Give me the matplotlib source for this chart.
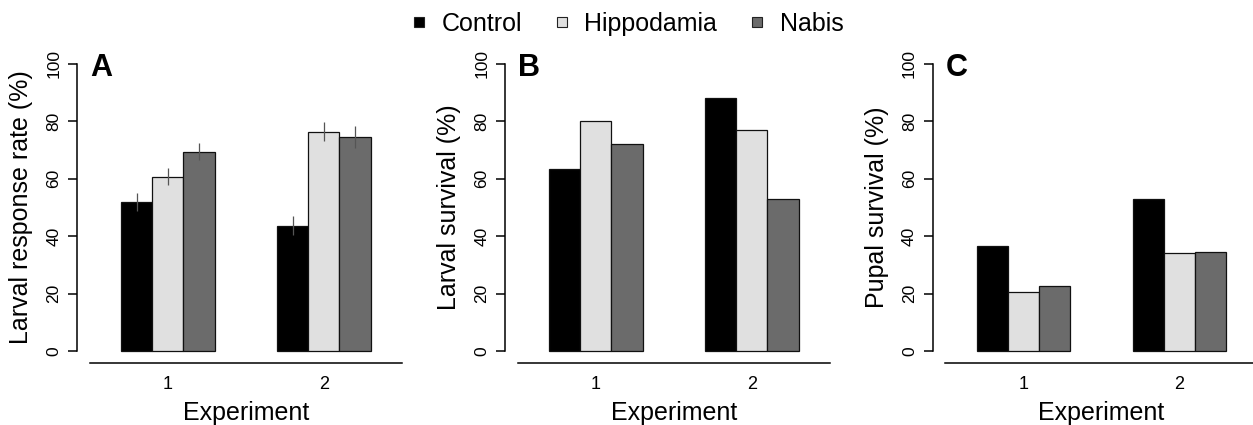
import matplotlib
matplotlib.use('Agg')
import matplotlib.pyplot as plt
import numpy as np
from matplotlib.lines import Line2D

plt.rcParams['font.family'] = ['Liberation Sans', 'DejaVu Sans']

#~~~~~~~~~~~~~~
# DATA
#~~~~~~~~~~~~~~

experiments = ['1', '2']
treatments = ['Control', 'Hippodamia', 'Nabis']

# A: larval response rate (%) with SE
response_control = [52.0, 43.7]
response_hippodamia = [60.7, 76.4]
response_nabis = [69.5, 74.7]
response_se_control = [3.2, 3.3]
response_se_hippodamia = [2.9, 3.4]
response_se_nabis = [3.1, 3.8]

# B: larval survival (%)
larval_control = [63.4, 88.3]
larval_hippodamia = [80.0, 77.1]
larval_nabis = [72.1, 53.1]

# C: pupal survival (%)
pupal_control = [36.7, 52.8]
pupal_hippodamia = [20.7, 34.1]
pupal_nabis = [22.8, 34.5]

colors = ['#000000', '#e0e0e0', '#6b6b6b']

#~~~~~~~~~~~~~~
# PLOTTING
#~~~~~~~~~~~~~~

W, H = 1253, 425
fig = plt.figure(figsize=(W / 100, H / 100), dpi=100)

def panel(left_px, letter, ylabel, vals, errs=None):
	ax = fig.add_axes([left_px / W, 1 - 362.5 / H, 337 / W, 310 / H])
	# R barplot style: groups of 3 bars, two bar widths between groups
	for g in range(len(experiments)):
		for t in range(len(treatments)):
			x0 = 1 + g * 5 + t
			ax.bar(x0 + 0.5, vals[t][g], width=1.0, color=colors[t],
				edgecolor='#111111', linewidth=0.9, zorder=2)
			if errs is not None:
				m, e = vals[t][g], errs[t][g]
				ax.plot([x0 + 0.5, x0 + 0.5], [m - e, m + e], color='#555555',
					lw=0.9, zorder=3, solid_capstyle='butt')
	ax.set_xlim(-0.4, 10.4)
	ax.set_ylim(-4, 104)
	for s in ['top', 'right']:
		ax.spines[s].set_visible(False)
	ax.spines['left'].set_bounds(0, 100)
	ax.spines['bottom'].set_bounds(0, 10)
	ax.spines['left'].set_linewidth(1.1)
	ax.spines['bottom'].set_linewidth(1.1)
	ax.spines['bottom'].set_clip_on(False)

	ax.set_yticks([0, 20, 40, 60, 80, 100])
	ax.set_yticklabels(['0', '20', '40', '60', '80', '100'], rotation=90, va='center')
	ax.tick_params(axis='y', length=6.5, width=1.1, pad=5, labelsize=12.5)
	ax.set_xticks([2.5, 7.5])
	ax.set_xticklabels(experiments)
	ax.tick_params(axis='x', length=0, pad=10, labelsize=13)

	ax.text(-0.167, 0.5, ylabel, transform=ax.transAxes, rotation=90,
		ha='center', va='center', fontsize=18)
	ax.text(0.5, (362.5 - 420) / 310, 'Experiment', transform=ax.transAxes,
		ha='center', va='baseline', fontsize=18)
	ax.text(0, 95.7, letter, fontsize=22, fontweight='bold', ha='left', va='baseline')
	return ax

panel(77.3, 'A', 'Larval response rate (%)',
	[response_control, response_hippodamia, response_nabis],
	[response_se_control, response_se_hippodamia, response_se_nabis])
panel(505.3, 'B', 'Larval survival (%)',
	[larval_control, larval_hippodamia, larval_nabis])
panel(933.0, 'C', 'Pupal survival (%)',
	[pupal_control, pupal_hippodamia, pupal_nabis])

handles = [Line2D([], [], marker='s', linestyle='none', markersize=7.2,
	markerfacecolor=c, markeredgecolor='#222222', markeredgewidth=0.8) for c in colors]
fig.legend(handles, treatments, loc='center', bbox_to_anchor=(628 / W, 1 - 24 / H),
	ncol=3, frameon=False, fontsize=18, handlelength=0.5, handletextpad=0.65,
	columnspacing=1.35, borderpad=0, borderaxespad=0)

plt.savefig('out.png', dpi=100)
